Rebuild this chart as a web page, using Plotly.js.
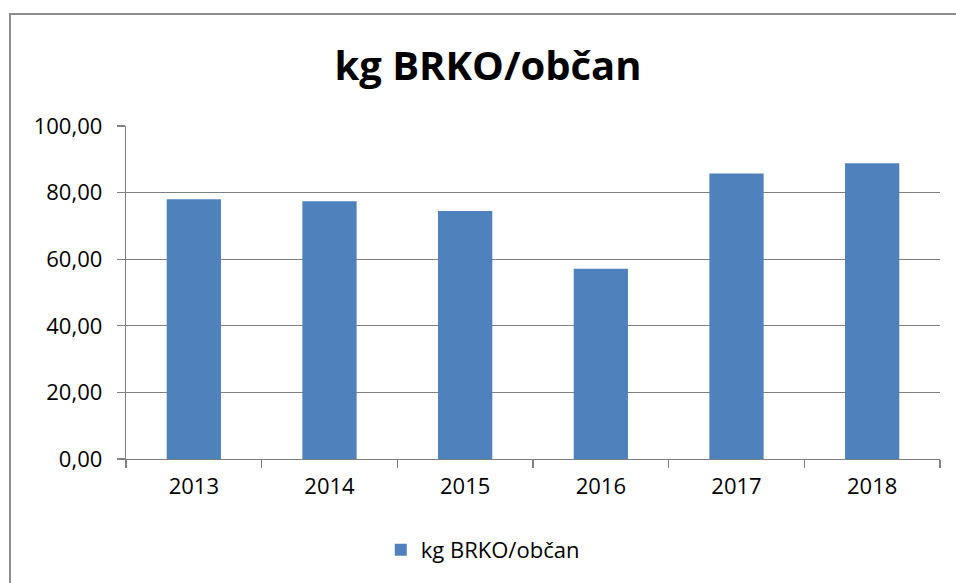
<!DOCTYPE html>
<html>
<head>
<meta charset="utf-8">
<script src="https://cdn.plot.ly/plotly-3.0.1.min.js"></script>
<style>
  html, body { margin: 0; padding: 0; background: #ffffff; }
  #wrap { position: relative; width: 956px; height: 583px; overflow: hidden; }
  #chart { width: 956px; height: 583px; }
  #frame { position: absolute; left: 9px; top: 13px; width: 1000px; height: 700px;
           border-left: 2px solid #8c8c8c; border-top: 2px solid #8c8c8c; pointer-events: none; }
</style>
</head>
<body>
<div id="wrap">
  <div id="chart"></div>
  <div id="frame"></div>
</div>
<script>
const years = ["2013", "2014", "2015", "2016", "2017", "2018"];
const kgPerCapita = [78.0, 77.4, 74.5, 57.1, 85.7, 88.8];
const seriesName = "kg BRKO/občan";
const chartTitle = "kg BRKO/občan";
const yTickValues = [0, 20, 40, 60, 80, 100];

const font = "Open Sans, Arial, sans-serif";
const gray = "#808080";

const trace = {
  type: "bar",
  x: years,
  y: kgPerCapita,
  name: seriesName,
  marker: { color: "#4F81BD" },
  showlegend: true,
  hoverinfo: "x+y"
};

const layout = {
  width: 956,
  height: 583,
  paper_bgcolor: "#ffffff",
  plot_bgcolor: "#ffffff",
  separators: ", ",
  margin: { l: 126, r: 16, t: 126, b: 124 },
  font: { family: font, size: 22, color: "#000000" },
  title: {
    text: "<b>" + chartTitle + "</b>",
    font: { family: font, size: 40, color: "#000000" },
    x: 488 / 956, xanchor: "center",
    xref: "container",
    y: 1 - 66 / 583, yref: "container", yanchor: "middle"
  },
  bargap: 0.6,
  xaxis: {
    type: "category",
    showline: true,
    linecolor: gray,
    linewidth: 1.3,
    ticks: "outside",
    tickson: "boundaries",
    ticklen: 8,
    tickcolor: gray,
    tickwidth: 1.3,
    showgrid: false,
    ticklabelstandoff: 7,
    tickfont: { family: font, size: 22, color: "#000000" }
  },
  yaxis: {
    range: [0, 100],
    tickvals: yTickValues,
    tickformat: ".2f",
    showline: true,
    linecolor: gray,
    linewidth: 1.3,
    ticks: "outside",
    ticklen: 8,
    tickcolor: gray,
    tickwidth: 1.3,
    showgrid: true,
    gridcolor: gray,
    gridwidth: 1.3,
    zeroline: false,
    ticklabelstandoff: 10,
    tickfont: { family: font, size: 22, color: "#000000" }
  },
  legend: {
    orientation: "h",
    x: 0.505, xanchor: "center",
    xref: "container",
    y: 1 - 550 / 583, yref: "container", yanchor: "middle",
    font: { family: font, size: 22, color: "#000000" },
    bgcolor: "rgba(0,0,0,0)"
  },
  showlegend: true
};

Plotly.newPlot("chart", [trace], layout, { displayModeBar: false, staticPlot: true });
</script>
</body>
</html>
